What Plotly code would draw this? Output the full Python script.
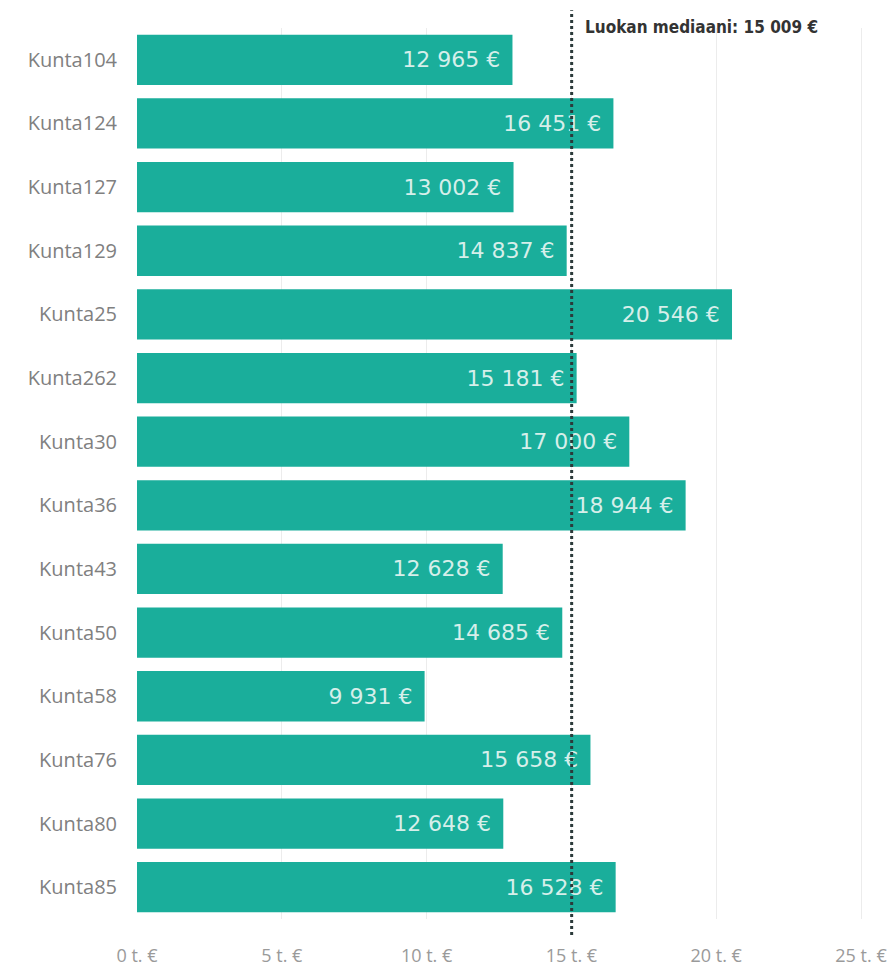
import plotly.graph_objects as go

categories = ["Kunta104", "Kunta124", "Kunta127", "Kunta129", "Kunta25", "Kunta262",
              "Kunta30", "Kunta36", "Kunta43", "Kunta50", "Kunta58", "Kunta76",
              "Kunta80", "Kunta85"]
values = [12965, 16451, 13002, 14837, 20546, 15181, 17000, 18944, 12628, 14685,
          9931, 15658, 12648, 16528]
median_value = 15009
tick_values = [0, 5000, 10000, 15000, 20000, 25000]
tick_labels = ["0 t. €", "5 t. €", "10 t. €", "15 t. €", "20 t. €", "25 t. €"]


def fmt(v):
    return f"{v:,}".replace(",", " ") + " €"


bar_text = [fmt(v) + "\u00a0\u200a" for v in values]

fig = go.Figure()
fig.add_trace(go.Bar(
    x=values, y=categories, orientation="h",
    marker=dict(color="#1aae9b", line=dict(width=0)),
    text=bar_text, textposition="inside", insidetextanchor="end",
    textfont=dict(family="DejaVu Sans", size=22, color="#d6efea"),
    cliponaxis=False,
    hoverinfo="skip",
))

fig.add_shape(type="line", xref="x", yref="paper",
              x0=median_value, x1=median_value, y0=-0.018, y1=1.02,
              line=dict(color="#2b3a3a", width=3, dash="dot"), layer="above")
fig.add_annotation(xref="x", yref="paper", x=median_value, y=1.0,
                   text="<b>Luokan mediaani: " + fmt(median_value) + "</b>",
                   showarrow=False, xanchor="left", yanchor="middle", xshift=11, yshift=1,
                   font=dict(family="DejaVu Sans Condensed", size=17, color="#333333"))

fig.update_layout(
    width=887, height=959,
    margin=dict(l=129, r=0, t=20, b=48, autoexpand=False),
    plot_bgcolor="white", paper_bgcolor="white",
    bargap=0.21,
    showlegend=False,
    xaxis=dict(range=[0, 26174], tickvals=tick_values, ticktext=tick_labels,
               showgrid=True, gridcolor="#ececec", gridwidth=1, zeroline=False,
               showline=False, ticks="", ticklabelstandoff=24,
               tickfont=dict(family="Open Sans", size=18, color="#9a9a9a")),
    yaxis=dict(autorange="reversed", showgrid=False, zeroline=False, showline=False,
               ticks="", ticklabelstandoff=19,
               tickfont=dict(family="Open Sans", size=20, color="#808080")),
)

fig.write_html("out.html")
